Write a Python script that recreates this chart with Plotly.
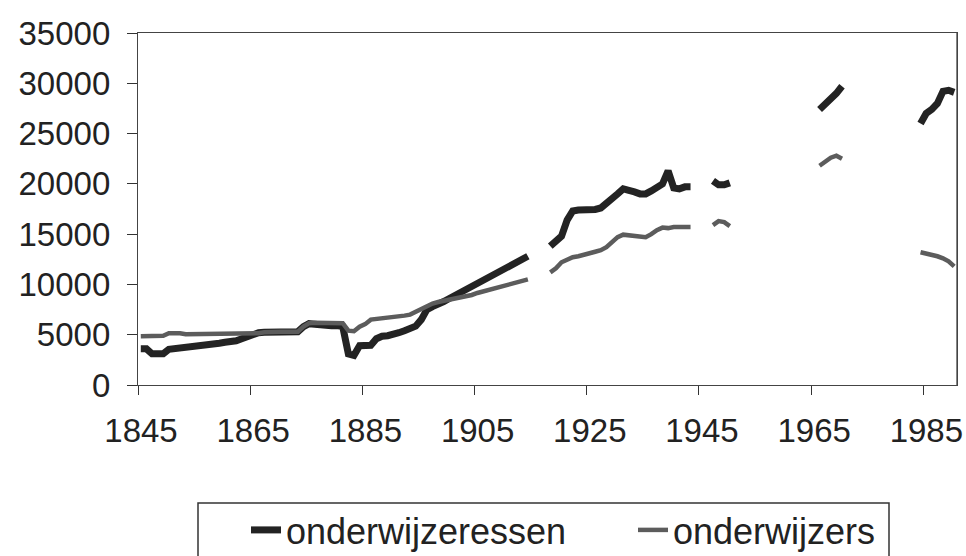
import plotly.graph_objects as go

years = list(range(1845, 1991))

N = None
onderwijzeressen = [
    3600, 3600, 3100, 3050, 3100, 3550, 3600, 3700, 3750, 3850,          # 1845-1854
    3900, 3950, 4000, 4100, 4150, 4250, 4300, 4400, 4600, 4800,          # 1855-1864
    5050, 5200, 5250, 5250, 5250, 5300, 5300, 5250, 5300, 5800,          # 1865-1874
    6100, 6050, 5950, 5900, 5900, 5900, 5800, 3100, 2950, 3900,          # 1875-1884
    4000, 3950, 4600, 4850, 4900, 5000, 5200, 5400, 5550, 5850,          # 1885-1894
    6500, 7500, 7800, 8000, 8300, 8600, 8900, 9200, 9500, 9750,          # 1895-1904
    10100, 10400, 10700, 11000, 11400, 11600, 11850, 12200, 12500, 12800,  # 1905-1914
    N, N, N, 13800, 14300, 14800, 16400, 17300, 17400, 17400,            # 1915-1924
    17400, 17450, 17600, 18000, 18500, 19000, 19500, 19400, 19200, 19000,  # 1925-1934
    19000, 19300, 19600, 20000, 21300, 19600, 19500, 19700, 19700, N,    # 1935-1944
    N, N, 20300, 19900, 19900, 20100, N, N, N, N,                        # 1945-1954
    N, N, N, N, N, N, N, N, N, N,                                        # 1955-1964
    N, 27400, 27900, 28400, 29000, 29700, N, N, N, N,                    # 1965-1974
    N, N, N, N, N, N, N, N, N, 26000,                                    # 1975-1984
    27000, 27400, 28000, 29200, 29300, 29100,                            # 1985-1990
]

onderwijzers = [
    4850, 4850, 4850, 4850, 4900, 5150, 5200, 5150, 5050, 5050,          # 1845-1854
    5050, 5050, 5050, 5050, 5050, 5050, 5050, 5050, 5050, 5050,          # 1855-1864
    5050, 5150, 5250, 5300, 5300, 5300, 5300, 5300, 5300, 5800,          # 1865-1874
    6150, 6200, 6200, 6200, 6200, 6200, 6150, 5400, 5350, 5800,          # 1875-1884
    6050, 6500, 6550, 6600, 6650, 6700, 6800, 6900, 7000, 7300,          # 1885-1894
    7600, 7900, 8100, 8250, 8350, 8450, 8550, 8650, 8800, 8950,          # 1895-1904
    9150, 9300, 9450, 9600, 9750, 9900, 10100, 10250, 10400, 10500,      # 1905-1914
    N, N, N, 11200, 11600, 12200, 12500, 12700, 12800, 12900,            # 1915-1924
    13100, 13250, 13400, 13700, 14200, 14700, 14950, 14900, 14800, 14700,  # 1925-1934
    14700, 15000, 15400, 15650, 15600, 15700, 15700, 15800, 15700, N,   # 1935-1944
    N, N, 15900, 16300, 16200, 15800, N, N, N, N,                        # 1945-1954
    N, N, N, N, N, N, N, N, N, N,                                        # 1955-1964
    N, 21800, 22200, 22600, 22800, 22500, N, N, N, N,                    # 1965-1974
    N, N, N, N, N, N, N, N, N, 13200,                                    # 1975-1984
    13100, 12900, 12800, 12600, 12300, 11800,                            # 1985-1990
]

tick_labels = ["1845", "1865", "1885", "1905", "1925", "1945", "1965", "1985"]
y_ticks = [0, 5000, 10000, 15000, 20000, 25000, 30000, 35000]

FONT = "Liberation Sans, Arial, sans-serif"

PLOT_L, PLOT_R, PLOT_T, PLOT_B = 138, 957, 33, 385  # pixels
W, H = 966, 556


def px_x(p):
    return (p - PLOT_L) / (PLOT_R - PLOT_L)


def px_y(p):
    return (PLOT_B - p) / (PLOT_B - PLOT_T)


fig = go.Figure()
fig.add_trace(go.Scatter(
    x=years, y=onderwijzeressen, name="onderwijzeressen", mode="lines",
    line=dict(color="#232323", width=7), connectgaps=False, legend="legend",
))
fig.add_trace(go.Scatter(
    x=years, y=onderwijzers, name="onderwijzers", mode="lines",
    line=dict(color="#5c5c5c", width=4.5), connectgaps=False, legend="legend2",
))

tick_pos = [int(t) - 0.5 for t in tick_labels]

leg_common = dict(
    orientation="h", yanchor="middle", xanchor="left", y=px_y(530),
    borderwidth=0, bgcolor="rgba(0,0,0,0)", font=dict(size=36, color="#222"),
)

fig.update_layout(
    width=W, height=H,
    margin=dict(l=PLOT_L, r=W - PLOT_R, t=PLOT_T, b=H - PLOT_B, autoexpand=False),
    paper_bgcolor="white", plot_bgcolor="white",
    font=dict(family=FONT, size=33, color="#222"),
    showlegend=True,
    legend=dict(x=px_x(246), **leg_common),
    legend2=dict(x=px_x(633), **leg_common),
    shapes=[
        dict(
            type="rect", xref="paper", yref="paper",
            x0=px_x(198), x1=px_x(889), y0=px_y(503), y1=px_y(600),
            line=dict(color="#333", width=1.5), fillcolor="rgba(0,0,0,0)",
            layer="below",
        ),
        dict(
            type="line", xref="paper", yref="paper", x0=1, x1=1, y0=0, y1=1,
            line=dict(color="#444", width=1.3), layer="above",
        ),
    ],
    xaxis=dict(
        range=[1844.5, 1990.5], tickmode="array", tickvals=tick_pos,
        ticktext=tick_labels, ticks="outside", ticklen=9, tickcolor="#333",
        showline=True, linecolor="#444", linewidth=1.3, mirror=True,
        showgrid=False, zeroline=False, ticklabelshift=3,
        ticklabelstandoff=7, ticklabeloverflow="allow",
    ),
    yaxis=dict(
        range=[0, 35000], tickmode="array", tickvals=y_ticks,
        ticktext=[str(v) for v in y_ticks], ticks="outside", ticklen=10,
        tickcolor="#333", showline=True, linecolor="#444", linewidth=1.3,
        mirror=True, showgrid=False, zeroline=False, ticklabelstandoff=10,
    ),
)

fig.write_html(
    "out.html",
    config={"displayModeBar": False},
    post_script="document.body.style.margin='0';document.body.style.overflow='hidden';",
)
